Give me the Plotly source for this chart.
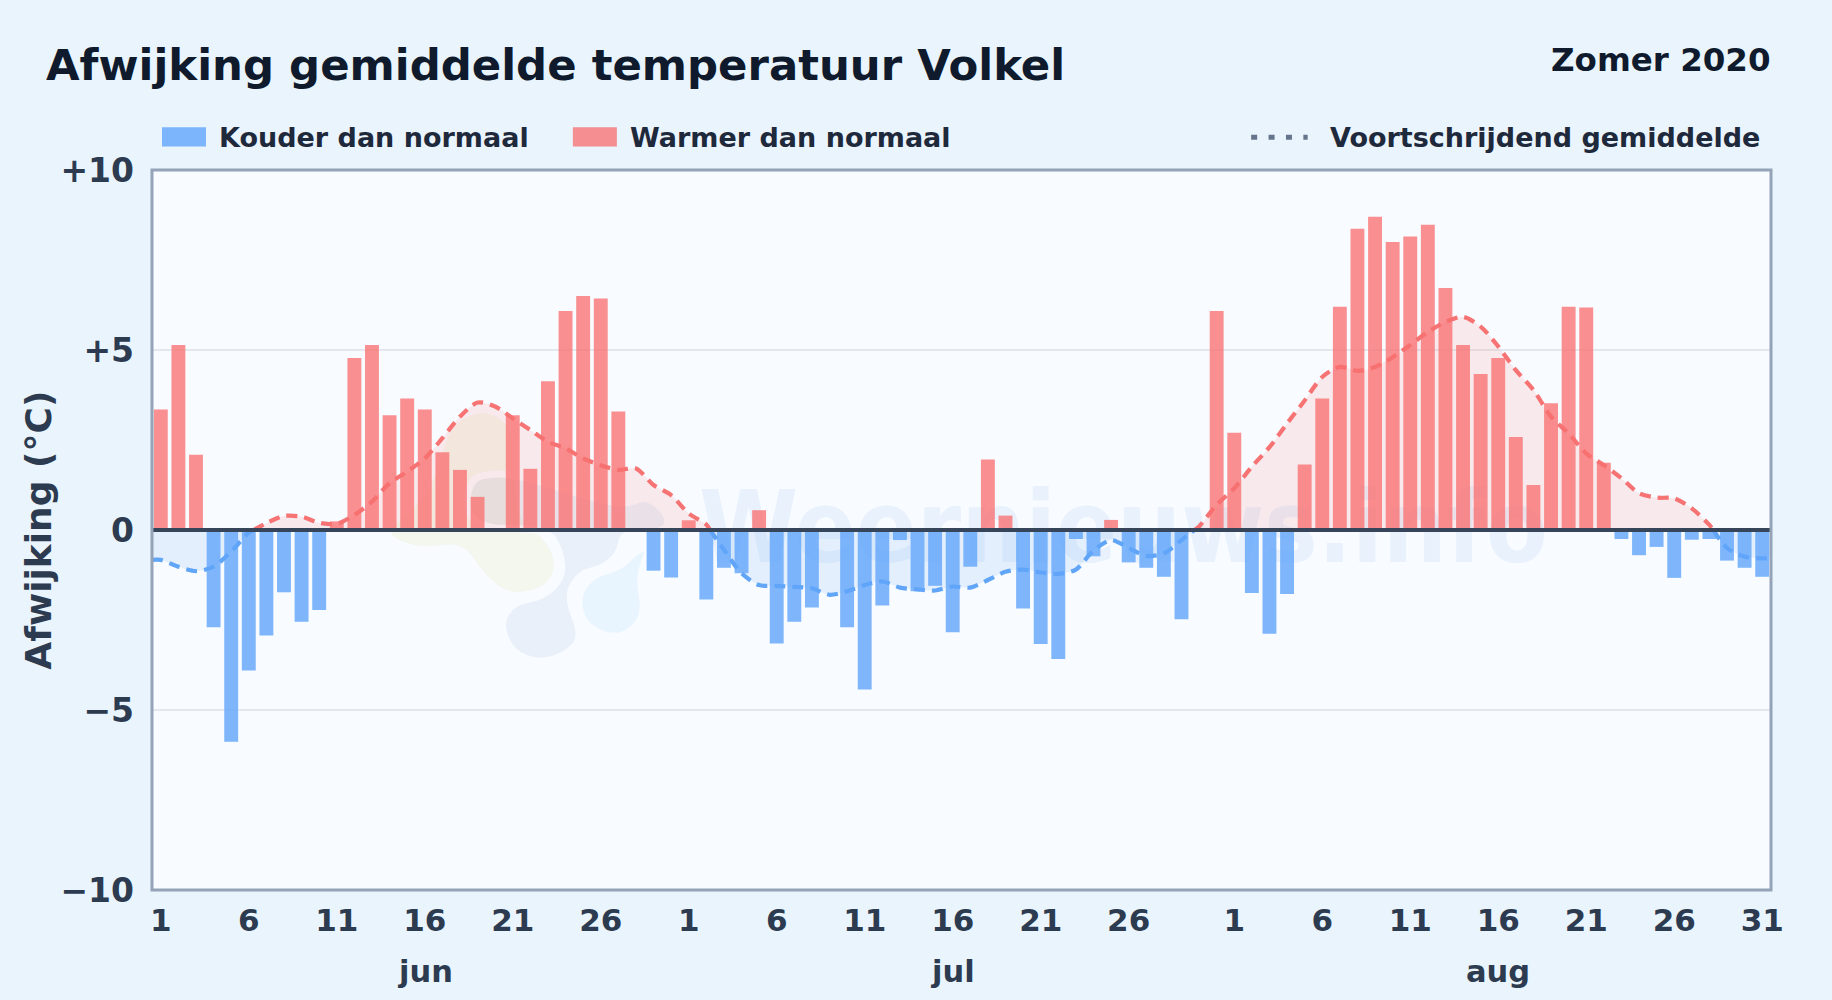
import numpy as np
import plotly.graph_objects as go

FONT = "DejaVu Sans"
INK = "#0f1b2d"
LEG = "#1e293b"
TXT = "#2d3b50"

month_names = ["jun", "jul", "aug"]
month_lengths = [30, 31, 31]

jun_dev = [3.35, 5.14, 2.09, -2.70, -5.88, -3.90, -2.93, -1.73, -2.55, -2.22,
           0.24, 4.78, 5.14, 3.19, 3.65, 3.35, 2.16, 1.67, 0.92, 0.0,
           3.19, 1.70, 4.13, 6.08, 6.50, 6.43, 3.29, 0.0, -1.13, -1.32]
jul_dev = [0.27, -1.93, -1.05, -1.20, 0.55, -3.15, -2.55, -2.15, 0.0, -2.70,
           -4.43, -2.10, -0.28, -1.70, -1.55, -2.84, -1.02, 1.96, 0.40, -2.18,
           -3.17, -3.58, -0.25, -0.73, 0.28, -0.90, -1.05, -1.30, -2.48, 0.0, 6.08]
aug_dev = [2.70, -1.75, -2.88, -1.78, 1.82, 3.65, 6.20, 8.37, 8.70, 8.00,
           8.15, 8.48, 6.72, 5.14, 4.33, 4.78, 2.58, 1.25, 3.52, 6.20,
           6.18, 1.87, -0.25, -0.70, -0.47, -1.33, -0.27, -0.25, -0.85, -1.05, -1.30]

jun_avg = [-0.83, -1.02, -1.14, -1.02, -0.60, -0.07, 0.19, 0.39, 0.37, 0.20,
           0.17, 0.42, 0.79, 1.30, 1.62, 1.99, 2.55, 3.15, 3.54, 3.43,
           3.10, 2.78, 2.45, 2.27, 1.99, 1.80, 1.67, 1.71, 1.25, 0.97]
jul_avg = [0.46, 0.15, -0.55, -1.20, -1.53, -1.55, -1.58, -1.62, -1.80, -1.70,
           -1.53, -1.43, -1.60, -1.65, -1.68, -1.57, -1.60, -1.39, -1.16, -1.10,
           -1.18, -1.22, -1.10, -0.57, -0.28, -0.50, -0.72, -0.65, -0.28, 0.10, 0.70]
aug_avg = [1.16, 1.76, 2.30, 2.96, 3.60, 4.25, 4.53, 4.42, 4.53, 4.80,
           5.14, 5.50, 5.78, 5.92, 5.65, 5.10, 4.44, 3.89, 3.15, 2.68,
           2.13, 1.80, 1.44, 1.02, 0.90, 0.88, 0.60, 0.14, -0.50, -0.74, -0.79]

y_ticks = [-10, -5, 0, 5, 10]
y_labels = ["−10", "−5", "0", "+5", "+10"]
labelled_days = [1, 6, 11, 16, 21, 26]

dev = np.array(jun_dev + jul_dev + aug_dev)
avg = np.array(jun_avg + jul_avg + aug_avg)
idx = np.arange(len(dev))
tick_idx, tick_txt, month_mid = [], [], []
start = 0
for n in month_lengths:
    for d in labelled_days:
        tick_idx.append(start + d - 1)
        tick_txt.append(str(d))
    month_mid.append(start + 15)
    start += n
tick_idx.append(len(dev) - 1)
tick_txt.append("31")

W, H = 1832, 1000
L, R, T, B = 152, 1771.5, 169.5, 890.3


def px(x):
    return (x - L) / (R - L)


def py(y):
    return (B - y) / (B - T)


def split_sign(x, y):
    """Insert the zero crossings, then return a positive and a negative part."""
    xs, ys = [], []
    for i in range(len(x)):
        if i and y[i - 1] * y[i] < 0:
            t = y[i - 1] / (y[i - 1] - y[i])
            xs.append(x[i - 1] + t * (x[i] - x[i - 1]))
            ys.append(0.0)
        xs.append(float(x[i]))
        ys.append(float(y[i]))
    xs, ys = np.array(xs), np.array(ys)
    pos = np.where(ys >= 0, ys, np.nan)
    neg = np.where(ys <= 0, ys, np.nan)
    return xs, pos, neg


# the line runs on to both edges of the plot
edge_x = np.r_[-0.5, idx, len(dev) - 0.5]
edge_y = np.r_[avg[0], avg, avg[-1]]
xs, pos, neg = split_sign(edge_x, edge_y)

fig = go.Figure()

fig.add_trace(go.Scatter(x=[54.7], y=[-0.2], mode="text", text=["Weernieuws.info"],
                         textposition="middle center",
                         textfont=dict(family="DejaVu Sans Condensed", size=100, color="rgba(140,185,235,0.15)", weight="bold"),
                         showlegend=False, hoverinfo="skip"))
for part, col, fill in [(pos, "rgba(245,101,101,0.9)", "rgba(248,113,113,0.13)"),
                        (neg, "rgba(88,160,247,0.95)", "rgba(96,165,250,0.13)")]:
    fig.add_trace(go.Scatter(x=xs, y=part, mode="lines",
                             line=dict(color=col, width=4.2, dash="11px,7px", shape="spline", smoothing=0.8),
                             fill="tozeroy", fillcolor=fill, connectgaps=False, showlegend=False, hoverinfo="skip"))

colors = ["rgba(248,113,113,0.78)" if v >= 0 else "rgba(96,165,250,0.8)" for v in dev]
fig.add_trace(go.Bar(x=idx, y=dev, marker=dict(color=colors, line=dict(width=0)), width=0.79,
                     xaxis="x2", yaxis="y2", showlegend=False, hovertemplate="%{y:+.1f} °C<extra></extra>"))


def blob(points, fill, halo=None):
    """Smooth closed outline through the midpoints of a logo's control points (zoomed pixels)."""
    pts = [(px(370 + a / 3), py(380 + b / 3)) for a, b in points]
    n = len(pts)
    mid = [((pts[i][0] + pts[(i + 1) % n][0]) / 2, (pts[i][1] + pts[(i + 1) % n][1]) / 2) for i in range(n)]
    path = f"M {mid[-1][0]:.5f},{mid[-1][1]:.5f} "
    for i in range(n):
        path += f"Q {pts[i][0]:.5f},{pts[i][1]:.5f} {mid[i][0]:.5f},{mid[i][1]:.5f} "
    path += "Z"
    line = dict(color=halo, width=7) if halo else dict(width=0)
    return dict(type="path", path=path, xref="paper", yref="paper", fillcolor=fill, line=line, layer="below")


PLOT_BG = "#f8fbff"
logo = [
    blob([(40, 460), (150, 505), (280, 485), (340, 580), (420, 645), (530, 620), (560, 550), (520, 470),
          (450, 430), (430, 300), (430, 140), (340, 85), (235, 140), (200, 300), (120, 400)],
         "rgba(226,235,185,0.25)"),
    blob([(290, 300), (380, 275), (500, 300), (650, 350), (770, 375), (830, 345), (900, 405), (885, 460),
          (760, 455), (750, 520), (700, 565), (630, 580), (590, 650), (640, 770), (590, 825), (510, 850),
          (425, 820), (388, 730), (430, 665), (520, 650), (580, 590), (570, 510), (530, 445), (295, 445)],
         "rgba(198,214,235,0.3)", PLOT_BG),
    blob([(620, 650), (665, 585), (750, 562), (800, 510), (845, 495), (805, 590), (828, 700), (775, 765),
          (710, 772), (640, 732)],
         "rgba(190,226,250,0.27)", PLOT_BG),
]

shapes = logo + [
    dict(type="line", xref="x2", yref="y2", x0=-0.5, x1=len(dev) - 0.5, y0=0, y1=0,
         line=dict(color="#364559", width=4), layer="above"),
    dict(type="rect", xref="paper", yref="paper", x0=0, x1=1, y0=0, y1=1,
         line=dict(color="#94a3b8", width=3), layer="above"),
    dict(type="rect", xref="paper", yref="paper", x0=px(162), x1=px(206), y0=py(146), y1=py(126.7),
         fillcolor="rgba(96,165,250,0.8)", line=dict(width=0)),
    dict(type="rect", xref="paper", yref="paper", x0=px(573), x1=px(617), y0=py(146), y1=py(126.7),
         fillcolor="rgba(248,113,113,0.78)", line=dict(width=0)),
    dict(type="line", xref="paper", yref="paper", x0=px(1251.5), x1=px(1308), y0=py(136.7), y1=py(136.7),
         line=dict(color="#64748b", width=5, dash="6px,11.4px")),
]


def note(text, x, y, size, color=TXT, xanchor="left", xref="paper", angle=0):
    return dict(text=text, x=x, y=y, xref=xref, yref="paper", showarrow=False, xanchor=xanchor,
                yanchor="middle", textangle=angle, font=dict(family=FONT, size=size, color=color, weight="bold"))


annotations = [
    note("Afwijking gemiddelde temperatuur Volkel", px(43.5), py(64), 43.4, INK),
    note("Zomer 2020", px(1774), py(59), 32.5, INK, xanchor="right"),
    note("Kouder dan normaal", px(217), py(136.5), 27, LEG),
    note("Warmer dan normaal", px(628), py(136.5), 27, LEG),
    note("Voortschrijdend gemiddelde", px(1762), py(136.5), 27, LEG, xanchor="right"),
    note("Afwijking (°C)", px(38.5), py(530), 36, TXT, xanchor="center", angle=-90),
]
for m, mid in zip(month_names, month_mid):
    annotations.append(note(m, mid, py(972), 30.5, TXT, xanchor="center", xref="x"))

x_range = [-0.5, len(dev) - 0.5]
y_range = [-10, 10]
fig.update_layout(
    width=W, height=H,
    margin=dict(l=L, r=W - R, t=T, b=H - B, autoexpand=False),
    paper_bgcolor="#e9f4fd", plot_bgcolor=PLOT_BG,
    font=dict(family=FONT, color=TXT),
    showlegend=False,
    shapes=shapes, annotations=annotations,
    xaxis=dict(range=x_range, tickmode="array", tickvals=tick_idx, ticktext=tick_txt, showgrid=False,
               zeroline=False, showline=False, ticks="",
               ticklabelstandoff=9, tickfont=dict(family=FONT, size=31, color=TXT, weight="bold")),
    yaxis=dict(range=y_range, tickmode="array", tickvals=y_ticks, ticktext=y_labels, showgrid=True,
               gridcolor="#e4e8ee", gridwidth=2, zeroline=False, showline=False, ticks="", ticklabelstandoff=17,
               tickfont=dict(family=FONT, size=33, color=TXT, weight="bold")),
    xaxis2=dict(range=x_range, overlaying="x", visible=False),
    yaxis2=dict(range=y_range, overlaying="y", visible=False),
)

fig.write_html("out.html", config={"displayModeBar": False},
               post_script="document.body.style.margin='0';document.body.style.background='#e9f4fd';")
